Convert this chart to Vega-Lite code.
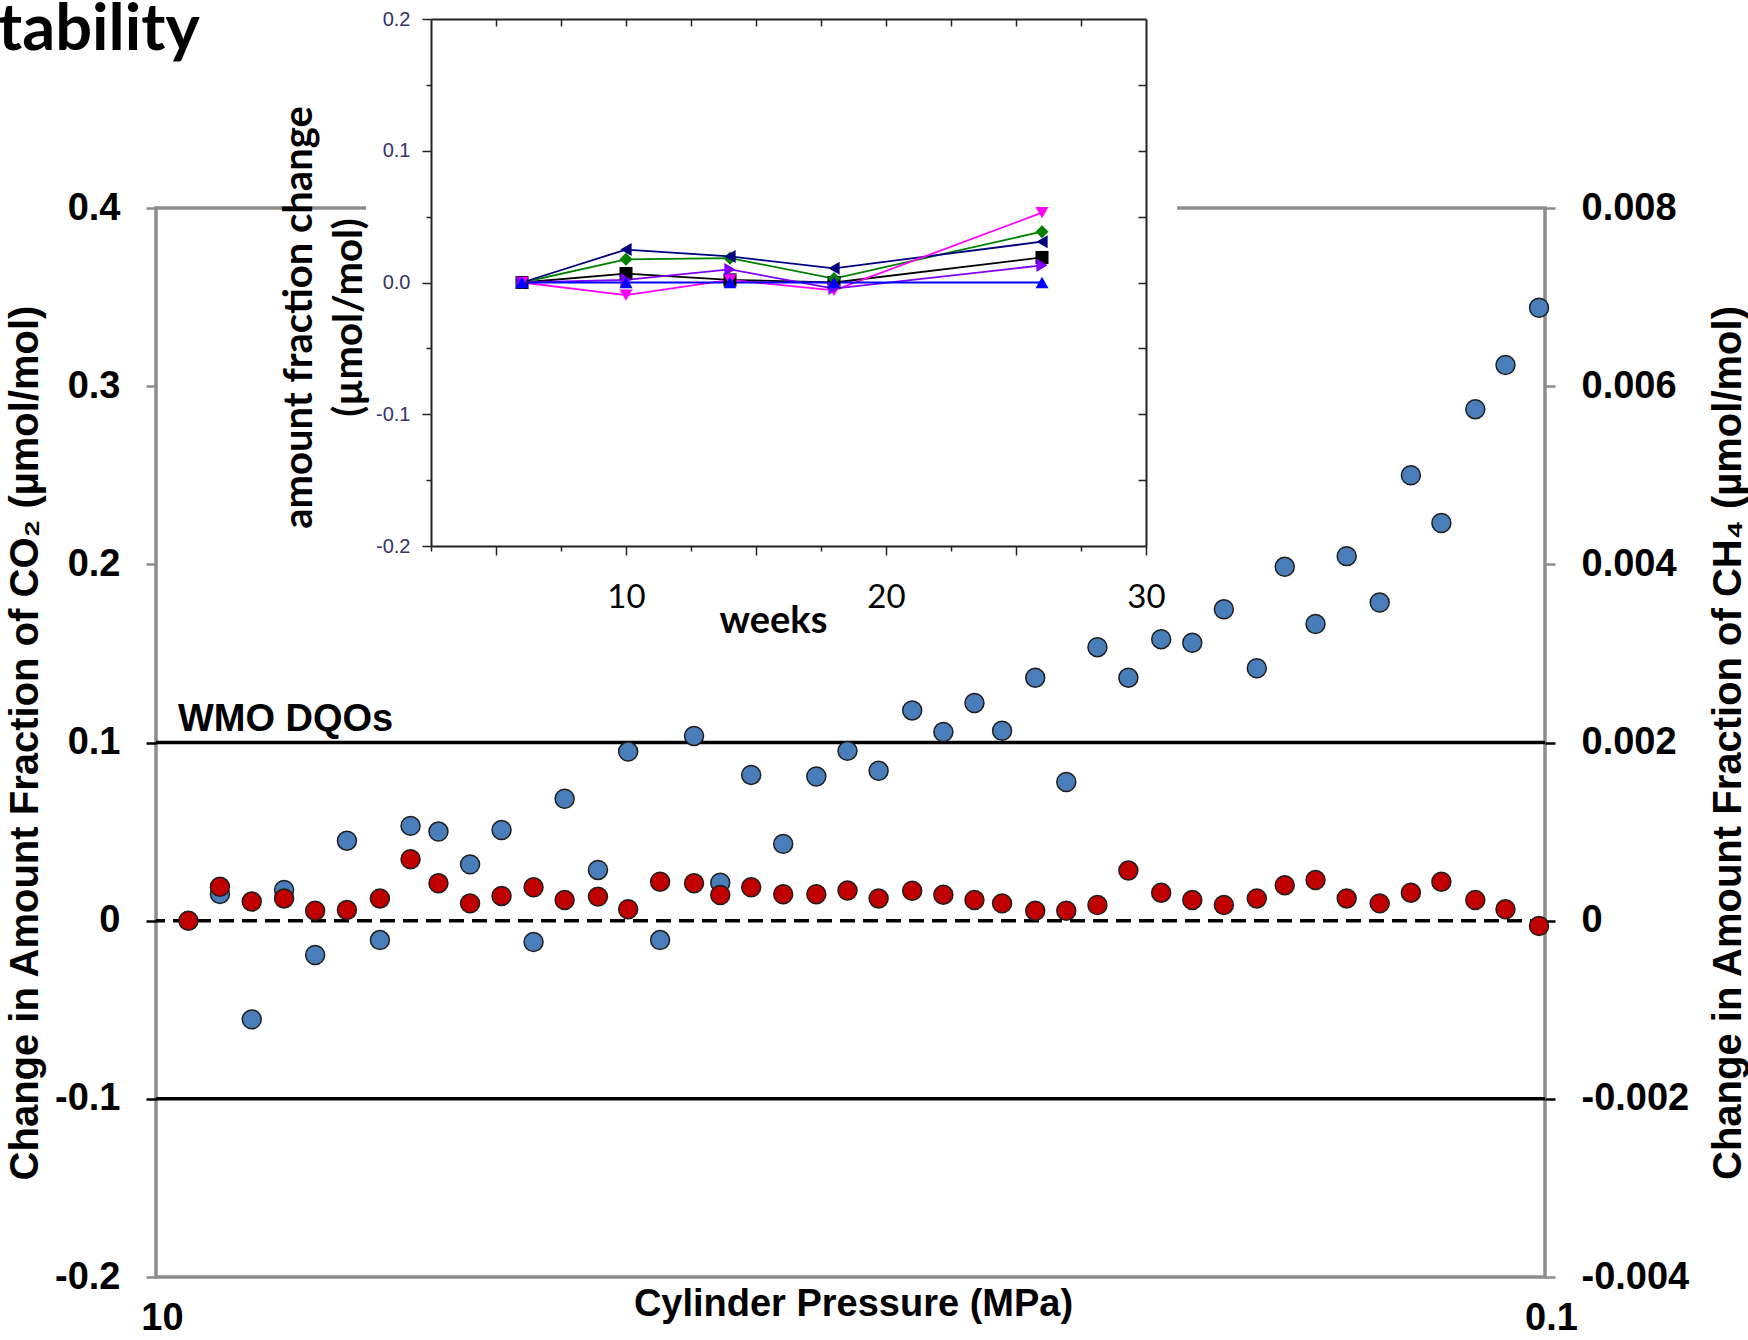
{
  "$schema": "https://vega.github.io/schema/vega-lite/v6.json",
  "width": 1389,
  "height": 1069,
  "autosize": "none",
  "padding": {"left": 156, "top": 208, "right": 203, "bottom": 63},
  "background": "white",
  "title": {"text": "tability", "anchor": "start", "frame": "group", "dx": -158, "dy": 122, "font": "Lato", "fontSize": 65, "fontWeight": "bold", "color": "#000", "offset": 0, "baseline": "alphabetic"},
  "config": {
    "view": {"stroke": "#8c8c8c", "strokeWidth": 3.5},
    "axis": {"grid": false},
    "font": "Liberation Sans"
  },
  "datasets": {
    "main": [
      {"p": 8.98, "co2": null, "ch4": 0},
      {"p": 8.09, "co2": 0.015, "ch4": 0.00038},
      {"p": 7.28, "co2": -0.0554, "ch4": 0.000214},
      {"p": 6.54, "co2": 0.0172, "ch4": 0.00025},
      {"p": 5.90, "co2": -0.0193, "ch4": 0.000112},
      {"p": 5.31, "co2": 0.0449, "ch4": 0.00012},
      {"p": 4.76, "co2": -0.0109, "ch4": 0.00025},
      {"p": 4.30, "co2": 0.0532, "ch4": 0.00069},
      {"p": 3.92, "co2": 0.05, "ch4": 0.00042},
      {"p": 3.53, "co2": 0.0316, "ch4": 0.000194},
      {"p": 3.18, "co2": 0.0509, "ch4": 0.000278},
      {"p": 2.86, "co2": -0.012, "ch4": 0.000374},
      {"p": 2.58, "co2": 0.0684, "ch4": 0.000232},
      {"p": 2.31, "co2": 0.0285, "ch4": 0.00027},
      {"p": 2.09, "co2": 0.0949, "ch4": 0.000128},
      {"p": 1.88, "co2": -0.0109, "ch4": 0.000438},
      {"p": 1.68, "co2": 0.1037, "ch4": 0.00042},
      {"p": 1.54, "co2": 0.0213, "ch4": 0.000288},
      {"p": 1.39, "co2": 0.0818, "ch4": 0.000374},
      {"p": 1.25, "co2": 0.0431, "ch4": 0.000296},
      {"p": 1.12, "co2": 0.0809, "ch4": 0.000296},
      {"p": 1.01, "co2": 0.0953, "ch4": 0.000338},
      {"p": 0.911, "co2": 0.0841, "ch4": 0.00025},
      {"p": 0.815, "co2": 0.118, "ch4": 0.000336},
      {"p": 0.735, "co2": 0.1059, "ch4": 0.000292},
      {"p": 0.663, "co2": 0.1222, "ch4": 0.000232},
      {"p": 0.605, "co2": 0.1066, "ch4": 0.000194},
      {"p": 0.542, "co2": 0.1364, "ch4": 0.000112},
      {"p": 0.489, "co2": 0.0778, "ch4": 0.000112},
      {"p": 0.441, "co2": 0.1535, "ch4": 0.000176},
      {"p": 0.398, "co2": 0.1364, "ch4": 0.000562},
      {"p": 0.357, "co2": 0.158, "ch4": 0.000314},
      {"p": 0.322, "co2": 0.156, "ch4": 0.000232},
      {"p": 0.290, "co2": 0.1748, "ch4": 0.000176},
      {"p": 0.260, "co2": 0.1417, "ch4": 0.00025},
      {"p": 0.237, "co2": 0.1986, "ch4": 0.000398},
      {"p": 0.214, "co2": 0.1665, "ch4": 0.000456},
      {"p": 0.193, "co2": 0.2046, "ch4": 0.00025},
      {"p": 0.173, "co2": 0.1786, "ch4": 0.000194},
      {"p": 0.156, "co2": 0.25, "ch4": 0.000314},
      {"p": 0.141, "co2": 0.2232, "ch4": 0.000438},
      {"p": 0.126, "co2": 0.2871, "ch4": 0.000232},
      {"p": 0.114, "co2": 0.3119, "ch4": 0.000128},
      {"p": 0.102, "co2": 0.344, "ch4": -0.00006}
    ],
    "inset": [
      {"weeks": 6, "series": "black", "value": 0},
      {"weeks": 10, "series": "black", "value": 0.0068},
      {"weeks": 14, "series": "black", "value": 0.002},
      {"weeks": 18, "series": "black", "value": 0},
      {"weeks": 26, "series": "black", "value": 0.019},
      {"weeks": 6, "series": "green", "value": 0},
      {"weeks": 10, "series": "green", "value": 0.0176},
      {"weeks": 14, "series": "green", "value": 0.0185},
      {"weeks": 18, "series": "green", "value": 0.003},
      {"weeks": 26, "series": "green", "value": 0.0386},
      {"weeks": 6, "series": "navy", "value": 0},
      {"weeks": 10, "series": "navy", "value": 0.025},
      {"weeks": 14, "series": "navy", "value": 0.0198},
      {"weeks": 18, "series": "navy", "value": 0.0108},
      {"weeks": 26, "series": "navy", "value": 0.031},
      {"weeks": 6, "series": "magenta", "value": 0},
      {"weeks": 10, "series": "magenta", "value": -0.0096},
      {"weeks": 14, "series": "magenta", "value": 0.002},
      {"weeks": 18, "series": "magenta", "value": -0.006},
      {"weeks": 26, "series": "magenta", "value": 0.053},
      {"weeks": 6, "series": "violet", "value": 0},
      {"weeks": 10, "series": "violet", "value": 0.002},
      {"weeks": 14, "series": "violet", "value": 0.0099},
      {"weeks": 18, "series": "violet", "value": -0.0046},
      {"weeks": 26, "series": "violet", "value": 0.013},
      {"weeks": 6, "series": "blue", "value": 0},
      {"weeks": 10, "series": "blue", "value": 0},
      {"weeks": 14, "series": "blue", "value": 0},
      {"weeks": 18, "series": "blue", "value": 0},
      {"weeks": 26, "series": "blue", "value": 0}
    ]
  },
  "layer": [
    {
      "layer": [
        {
          "layer": [
            {
              "data": {"values": [{}]},
              "mark": {"type": "rule", "color": "#000", "strokeWidth": 3.5},
              "encoding": {"y": {"datum": 0.1, "type": "quantitative"}}
            },
            {
              "data": {"values": [{}]},
              "mark": {"type": "rule", "color": "#000", "strokeWidth": 3.5},
              "encoding": {"y": {"datum": -0.1, "type": "quantitative"}}
            },
            {
              "data": {"values": [{}]},
              "mark": {"type": "rule", "color": "#000", "strokeWidth": 3.5, "strokeDash": [15, 8]},
              "encoding": {"y": {"datum": 0, "type": "quantitative"}}
            },
            {
              "data": {"name": "main"},
              "transform": [{"filter": "isValid(datum.co2)"}],
              "mark": {"type": "point", "shape": "circle", "filled": true, "size": 360, "fill": "#4A7EBB", "stroke": "#1e1e1e", "strokeWidth": 1.5, "opacity": 1},
              "encoding": {
                "x": {
                  "field": "p", "type": "quantitative", "title": "Cylinder Pressure (MPa)",
                  "scale": {"type": "log", "domain": [0.1, 10], "reverse": true, "nice": false},
                  "axis": {
                    "orient": "bottom", "values": [10, 0.1], "domain": false, "ticks": false,
                    "labelExpr": "datum.value > 1 ? '10' : '0.1'",
                    "labelFont": "Liberation Sans", "labelFontSize": 38, "labelFontWeight": "bold", "labelColor": "#000",
                    "labelPadding": 22, "labelBaseline": "top", "labelOffset": 6, "labelFlush": false,
                    "titleFont": "Liberation Sans", "titleFontSize": 38, "titleFontWeight": "bold", "titleColor": "#000",
                    "titleX": 697, "titleY": 38, "titleBaseline": "alphabetic", "titleAlign": "center"
                  }
                },
                "y": {
                  "field": "co2", "type": "quantitative", "title": "Change in Amount Fraction of CO₂ (µmol/mol)",
                  "scale": {"domain": [-0.2, 0.4], "nice": false, "zero": false},
                  "axis": {
                    "orient": "left", "values": [-0.2, -0.1, 0, 0.1, 0.2, 0.3, 0.4], "domain": false,
                    "tickSize": 10, "tickWidth": 2.5,
                    "tickColor": {"condition": {"test": "abs(datum.value) < 0.15", "value": "#000"}, "value": "#8c8c8c"},
                    "labelExpr": "datum.value == 0 ? '0' : replace(format(datum.value, '.1f'), '\u2212', '-')",
                    "labelFont": "Liberation Sans", "labelFontSize": 38, "labelFontWeight": "bold", "labelColor": "#000", "labelPadding": 26,
                    "titleFont": "Liberation Sans", "titleFontSize": 40, "titleFontWeight": "bold", "titleColor": "#000",
                    "titleAngle": 270, "titleX": -131, "titleY": 534.5, "titleAlign": "center", "titleBaseline": "middle"
                  }
                }
              }
            },
            {
              "data": {"values": [{}]},
              "mark": {"type": "text", "text": "WMO DQOs", "align": "left", "baseline": "alphabetic", "dy": -12, "font": "Liberation Sans", "fontSize": 38, "fontWeight": "bold", "color": "#000"},
              "encoding": {
                "x": {"datum": 9.3, "type": "quantitative"},
                "y": {"datum": 0.1, "type": "quantitative"}
              }
            }
          ]
        },
        {
          "data": {"name": "main"},
          "mark": {"type": "point", "shape": "circle", "filled": true, "size": 360, "fill": "#C00000", "stroke": "#1e1e1e", "strokeWidth": 1.5, "opacity": 1},
          "encoding": {
            "x": {"field": "p", "type": "quantitative", "title": "Cylinder Pressure (MPa)"},
            "y": {
              "field": "ch4", "type": "quantitative", "title": "Change in Amount Fraction of CH₄ (µmol/mol)",
              "scale": {"domain": [-0.004, 0.008], "nice": false, "zero": false},
              "axis": {
                "orient": "right", "values": [-0.004, -0.002, 0, 0.002, 0.004, 0.006, 0.008], "domain": false,
                "tickSize": 10, "tickWidth": 2.5,
                "tickColor": {"condition": {"test": "abs(datum.value) < 0.003", "value": "#000"}, "value": "#8c8c8c"},
                "labelExpr": "datum.value == 0 ? '0' : replace(format(datum.value, '.3f'), '\u2212', '-')",
                "labelFont": "Liberation Sans", "labelFontSize": 38, "labelFontWeight": "bold", "labelColor": "#000", "labelPadding": 26,
                "titleFont": "Liberation Sans", "titleFontSize": 40, "titleFontWeight": "bold", "titleColor": "#000",
                "titleAngle": 270, "titleX": 183, "titleY": 534.5, "titleAlign": "center", "titleBaseline": "middle"
              }
            }
          }
        }
      ],
      "resolve": {"scale": {"y": "independent"}}
    },
    {
      "layer": [
        {
          "data": {"values": [{}]},
          "mark": {"type": "rect", "fill": "white"},
          "encoding": {
            "x": {
              "datum": 0, "type": "quantitative",
              "scale": {"domain": [2.5, 30], "range": [275, 990], "nice": false, "zero": false},
              "axis": {"orient": "top", "offset": 189, "values": [5, 7.5, 10, 12.5, 15, 17.5, 20, 22.5, 25, 27.5], "labels": false, "tickSize": -7, "tickColor": "#222", "tickWidth": 1.5, "domainColor": "#222", "domainWidth": 2, "title": null, "zindex": 1}
            },
            "x2": {"datum": 31.2},
            "y": {
              "datum": 0.22, "type": "quantitative",
              "scale": {"domain": [-0.2, 0.2], "range": [338, -189], "nice": false, "zero": false},
              "axis": {"orient": "right", "offset": -399, "values": [-0.15, -0.1, -0.05, 0, 0.05, 0.1, 0.15], "labels": false, "tickSize": -8, "tickColor": "#222", "tickWidth": 1.5, "domainColor": "#222", "domainWidth": 2, "title": null, "zindex": 1}
            },
            "y2": {"datum": -0.2}
          }
        },
        {
          "data": {"name": "inset"},
          "encoding": {
            "x": {
              "field": "weeks", "type": "quantitative", "title": "weeks",
              "scale": {"domain": [2.5, 30], "range": [275, 990], "nice": false, "zero": false},
              "axis": {
                "orient": "bottom", "offset": -731, "values": [5, 10, 15, 20, 25, 30],
                "labelExpr": "datum.value % 10 == 0 ? format(datum.value, 'd') : ''",
                "tickSize": 9, "tickColor": "#222", "tickWidth": 1.5, "domainColor": "#222", "domainWidth": 2,
                "labelFont": "Lato", "labelFontSize": 33, "labelColor": "#000", "labelPadding": 26, "labelBaseline": "top", "labelFlush": false,
                "titleFont": "Lato", "titleFontSize": 38, "titleFontWeight": "bold", "titleColor": "#000",
                "titleX": 617, "titleY": 86, "titleBaseline": "alphabetic", "titleAlign": "center", "zindex": 1
              }
            },
            "y": {
              "field": "value", "type": "quantitative", "title": ["amount fraction change", "(µmol/mol)"],
              "scale": {"domain": [-0.2, 0.2], "range": [338, -189], "nice": false, "zero": false},
              "axis": {
                "orient": "left", "offset": -275, "values": [-0.2, -0.1, 0, 0.1, 0.2],
                "labelExpr": "replace(format(datum.value, '.1f'), '\u2212', '-')",
                "tickSize": 9, "tickColor": "#222", "tickWidth": 1.5, "domainColor": "#222", "domainWidth": 2,
                "labelFont": "Liberation Sans", "labelFontSize": 20, "labelColor": "#333366", "labelPadding": 12,
                "titleFont": "Lato", "titleFontSize": 40, "titleFontWeight": "bold", "titleColor": "#000",
                "titleAngle": 270, "titleX": -132, "titleY": 109, "titleAlign": "center", "titleBaseline": "middle", "titleLineHeight": 50,
                "zindex": 1
              }
            },
            "color": {
              "field": "series", "type": "nominal", "legend": null,
              "scale": {"domain": ["black", "green", "navy", "magenta", "violet", "blue"], "range": ["#000000", "#008000", "#000080", "#FF00FF", "#8000FF", "#0000FF"]}
            }
          },
          "layer": [
            {"mark": {"type": "line", "strokeWidth": 1.8}},
            {
              "mark": {"type": "point", "filled": true, "size": 170, "opacity": 1},
              "encoding": {
                "shape": {
                  "field": "series", "type": "nominal", "legend": null,
                  "scale": {"domain": ["black", "green", "navy", "magenta", "violet", "blue"], "range": ["square", "diamond", "triangle-left", "triangle-down", "triangle-right", "triangle-up"]}
                }
              }
            }
          ]
        },
        {
          "data": {"name": "inset"},
          "mark": {"type": "point", "opacity": 0},
          "encoding": {
            "x": {
              "field": "weeks", "type": "quantitative",
              "scale": {"domain": [2.5, 30], "range": [275, 990], "nice": false, "zero": false},
              "axis": {"orient": "bottom", "offset": -731, "values": [2.5, 7.5, 12.5, 17.5, 22.5, 27.5], "labels": false, "domain": false, "tickSize": 5, "tickColor": "#222", "tickWidth": 1.5, "title": null, "zindex": 1}
            },
            "y": {
              "field": "value", "type": "quantitative",
              "scale": {"domain": [-0.2, 0.2], "range": [338, -189], "nice": false, "zero": false},
              "axis": {"orient": "left", "offset": -275, "values": [-0.15, -0.05, 0.05, 0.15], "labels": false, "domain": false, "tickSize": 5, "tickColor": "#222", "tickWidth": 1.5, "title": null, "zindex": 1}
            }
          }
        }
      ],
      "resolve": {"scale": {"x": "independent", "y": "independent"}}
    }
  ],
  "resolve": {"scale": {"x": "independent", "y": "independent"}}
}
